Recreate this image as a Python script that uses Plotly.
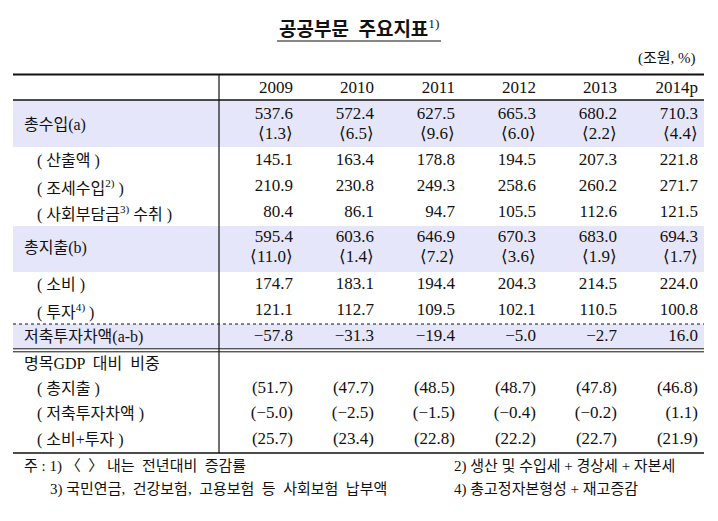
import plotly.graph_objects as go

# 데이터 (조원, %)
years = ["2009", "2010", "2011", "2012", "2013", "2014p"]
total_revenue = [537.6, 572.4, 627.5, 665.3, 680.2, 710.3]
revenue_growth = [1.3, 6.5, 9.6, 6.0, 2.2, 4.4]
output_sales = [145.1, 163.4, 178.8, 194.5, 207.3, 221.8]
tax_revenue = [210.9, 230.8, 249.3, 258.6, 260.2, 271.7]
social_contrib = [80.4, 86.1, 94.7, 105.5, 112.6, 121.5]
total_expenditure = [595.4, 603.6, 646.9, 670.3, 683.0, 694.3]
expenditure_growth = [11.0, 1.4, 7.2, 3.6, 1.9, 1.7]
consumption = [174.7, 183.1, 194.4, 204.3, 214.5, 224.0]
investment = [121.1, 112.7, 109.5, 102.1, 110.5, 100.8]
saving_gap = [-57.8, -31.3, -19.4, -5.0, -2.7, 16.0]
gdp_expenditure = [51.7, 47.7, 48.5, 48.7, 47.8, 46.8]
gdp_gap = [-5.0, -2.5, -1.5, -0.4, -0.2, 1.1]
gdp_cons_inv = [25.7, 23.4, 22.8, 22.2, 22.7, 21.9]


def num(v):
    return f"{v:.1f}".replace("-", "−")


def growth(v):
    return "⟨" + num(v) + "⟩"


def paren(v):
    return "(" + num(v) + ")"


# (라벨, 들여쓰기, 값 문자열, 행 y 위치)
rows = [
    ("총수입(a)", False, None, 125),
    (None, False, [num(v) for v in total_revenue], 115),
    (None, False, [growth(v) for v in revenue_growth], 135),
    ("( 산출액 )", True, [num(v) for v in output_sales], 161),
    ("( 조세수입<sup>2)</sup> )", True, [num(v) for v in tax_revenue], 187),
    ("( 사회부담금<sup>3)</sup> 수취 )", True, [num(v) for v in social_contrib], 213),
    ("총지출(b)", False, None, 248),
    (None, False, [num(v) for v in total_expenditure], 238),
    (None, False, [growth(v) for v in expenditure_growth], 258),
    ("( 소비 )", True, [num(v) for v in consumption], 285),
    ("( 투자<sup>4)</sup> )", True, [num(v) for v in investment], 311),
    ("저축투자차액(a-b)", False, [num(v) for v in saving_gap], 337),
    ("명목GDP  대비  비중", False, None, 363),
    ("( 총지출 )", True, [paren(v) for v in gdp_expenditure], 389),
    ("( 저축투자차액 )", True, [paren(v) for v in gdp_gap], 414),
    ("( 소비+투자 )", True, [paren(v) for v in gdp_cons_inv], 440),
]

# 페이지 body 여백(8px)을 빼고 그린다
PAD = 8
W, H = 718 - 2 * PAD, 521 - 2 * PAD
col_right0, col_step = 293, 81   # 첫 열 오른쪽 끝, 열 간격 (px)
left, right, vline = 13, 704, 219

FONT = "Liberation Serif, Noto Sans CJK KR"
INK = "#111111"
SHADE = "#E6E6FA"


def px(x):
    return (x - PAD) / W


fig = go.Figure()

# 연도 열 값: x축은 열 번호(0..5)
for label, indent, vals, y in rows:
    if vals is not None:
        fig.add_trace(go.Scatter(
            x=list(range(len(years))), y=[y] * len(years),
            mode="text", text=vals, textposition="middle left",
            textfont=dict(family=FONT, size=17, color=INK),
            hoverinfo="skip", showlegend=False,
        ))
    if label is not None:
        fig.add_annotation(
            x=px(35 if indent else 22), xref="paper", y=y, yref="y",
            text=label, showarrow=False, xanchor="left", yanchor="middle",
            font=dict(family=FONT, size=16, color=INK),
        )

# 헤더
fig.add_trace(go.Scatter(
    x=list(range(len(years))), y=[89] * len(years),
    mode="text", text=years, textposition="middle left",
    textfont=dict(family=FONT, size=17, color=INK),
    hoverinfo="skip", showlegend=False,
))

# 제목, 단위
fig.add_annotation(x=px(359), xref="paper", y=28, yref="y",
                   text="<b>공공부문  주요지표</b><sup>1)</sup>", showarrow=False,
                   xanchor="center", yanchor="middle",
                   font=dict(family=FONT, size=19, color=INK))
fig.add_annotation(x=px(698), xref="paper", y=58, yref="y",
                   text="(조원, %)", showarrow=False, xanchor="right", yanchor="middle",
                   font=dict(family=FONT, size=15, color=INK))

# 주석
notes = [
    ("주 : 1) 〈  〉 내는  전년대비  증감률", 22, 466),
    ("2) 생산 및 수입세 + 경상세 + 자본세", 452, 466),
    ("3) 국민연금,  건강보험,  고용보험  등  사회보험  납부액", 48, 489),
    ("4) 총고정자본형성 + 재고증감", 452, 489),
]
for txt, nx, ny in notes:
    fig.add_annotation(x=px(nx), xref="paper", y=ny, yref="y", text=txt,
                       showarrow=False, xanchor="left", yanchor="middle",
                       font=dict(family=FONT, size=15, color=INK))

# 음영, 선
shapes = []
for y0, y1 in [(100, 147), (226, 272), (324, 348)]:
    shapes.append(dict(type="rect", xref="paper", yref="y", x0=px(left), x1=px(right),
                       y0=y0, y1=y1, fillcolor=SHADE, line_width=0, layer="below"))


def hline(y, width=1.2, dash="solid"):
    shapes.append(dict(type="line", xref="paper", yref="y", x0=px(left), x1=px(right),
                       y0=y, y1=y, line=dict(color=INK, width=width, dash=dash)))


hline(74.5, 2)
hline(100, 1.4)
hline(324, 1, "dot")
hline(348.8, 1)
hline(351.8, 1)
hline(453, 1.4)
shapes.append(dict(type="line", xref="paper", yref="y", x0=px(vline), x1=px(vline),
                   y0=74.5, y1=453, line=dict(color=INK, width=1.2)))
# 제목 밑줄
shapes.append(dict(type="line", xref="paper", yref="y", x0=px(277), x1=px(441),
                   y0=41, y1=41, line=dict(color=INK, width=1.2)))

fig.update_layout(
    width=W, height=H,
    margin=dict(l=0, r=0, t=0, b=0),
    paper_bgcolor="white", plot_bgcolor="white",
    shapes=shapes,
    xaxis=dict(range=[(PAD - col_right0) / col_step, (PAD + W - col_right0) / col_step],
               visible=False, fixedrange=True),
    yaxis=dict(range=[PAD + H, PAD], visible=False, fixedrange=True),
)

fig.write_html("out.html")
